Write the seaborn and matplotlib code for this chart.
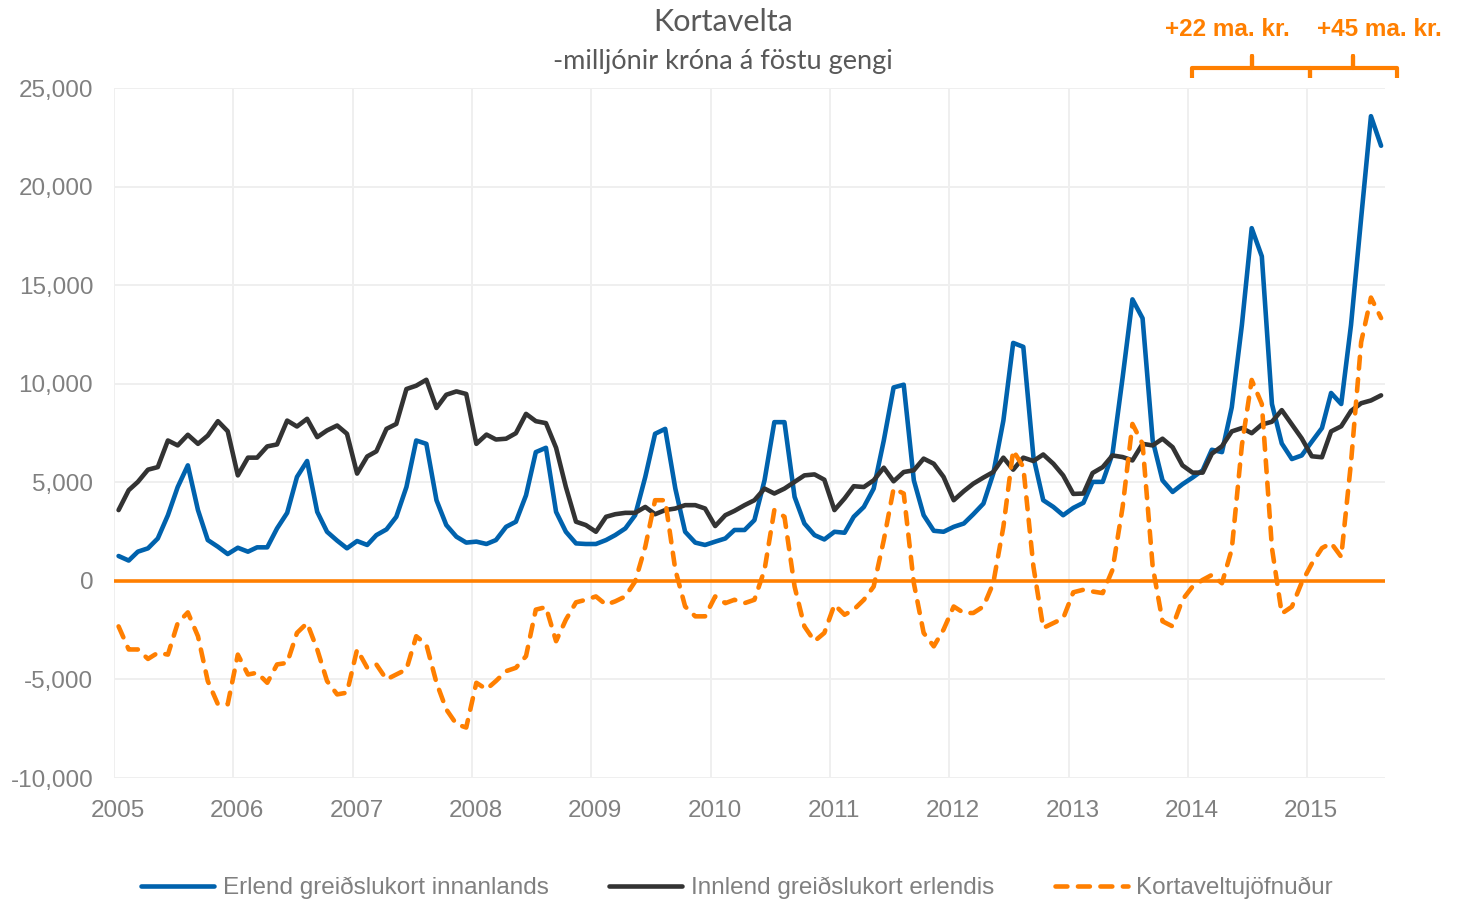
import pandas as pd
import numpy as np
import matplotlib
matplotlib.use("Agg")
import matplotlib.pyplot as plt
import matplotlib.dates as mdates
import matplotlib.ticker as mticker
from matplotlib.transforms import ScaledTranslation
from matplotlib.lines import Line2D
import seaborn as sns

# monthly data, thousands of millions ISK
months = pd.date_range("2005-01-01", periods=128, freq="MS") + pd.Timedelta(days=14)

erlend = [  # foreign cards used in Iceland
    1.26, 1.03, 1.48, 1.65, 2.15, 3.33, 4.76, 5.86, 3.59, 2.07, 1.73, 1.36,
    1.68, 1.48, 1.70, 1.70, 2.66, 3.45, 5.27, 6.08, 3.50, 2.49, 2.04, 1.65,
    2.02, 1.82, 2.32, 2.61, 3.25, 4.76, 7.12, 6.95, 4.09, 2.83, 2.24, 1.94,
    1.99, 1.87, 2.07, 2.74, 3.00, 4.34, 6.53, 6.75, 3.50, 2.49, 1.90, 1.87,
    1.87, 2.07, 2.32, 2.66, 3.33, 5.27, 7.46, 7.71, 4.68, 2.49, 1.94, 1.82,
    1.99, 2.15, 2.58, 2.58, 3.08, 5.10, 8.05, 8.05, 4.26, 2.91, 2.32, 2.10,
    2.49, 2.44, 3.25, 3.75, 4.68, 7.12, 9.81, 9.95, 5.10, 3.33, 2.54, 2.49,
    2.74, 2.91, 3.38, 3.92, 5.44, 8.13, 12.07, 11.87, 6.28, 4.09, 3.75, 3.33,
    3.70, 3.96, 5.02, 5.02, 6.45, 10.32, 14.28, 13.32, 7.12, 5.10, 4.51, 4.90,
    5.24, 5.61, 6.65, 6.53, 8.80, 12.98, 17.89, 16.46, 8.97, 6.97, 6.18, 6.36,
    7.06, 7.75, 9.53, 8.97, 12.98, 18.40, 23.57, 22.07,
]

innlend = [  # Icelandic cards used abroad
    3.59, 4.60, 5.02, 5.64, 5.77, 7.12, 6.87, 7.41, 6.95, 7.37, 8.10, 7.59,
    5.35, 6.25, 6.25, 6.82, 6.92, 8.13, 7.83, 8.22, 7.29, 7.63, 7.88, 7.46,
    5.44, 6.31, 6.57, 7.71, 7.96, 9.73, 9.90, 10.20, 8.77, 9.44, 9.61, 9.48,
    6.95, 7.42, 7.17, 7.21, 7.49, 8.47, 8.10, 8.00, 6.75, 4.76, 3.00, 2.83,
    2.49, 3.25, 3.38, 3.45, 3.45, 3.75, 3.38, 3.59, 3.67, 3.84, 3.84, 3.67,
    2.78, 3.33, 3.55, 3.84, 4.09, 4.68, 4.43, 4.68, 5.02, 5.35, 5.40, 5.13,
    3.59, 4.18, 4.80, 4.76, 5.10, 5.74, 5.05, 5.52, 5.61, 6.20, 5.94, 5.27,
    4.09, 4.55, 4.93, 5.24, 5.52, 6.25, 5.64, 6.25, 6.08, 6.41, 5.94, 5.35,
    4.41, 4.43, 5.47, 5.77, 6.36, 6.28, 6.11, 6.95, 6.87, 7.21, 6.78, 5.86,
    5.49, 5.49, 6.45, 6.83, 7.58, 7.75, 7.49, 7.93, 8.07, 8.66, 7.93, 7.23,
    6.32, 6.27, 7.58, 7.84, 8.62, 9.01, 9.15, 9.41,
]

jofnudur = [  # card turnover balance
    -2.31, -3.48, -3.48, -3.96, -3.65, -3.74, -2.14, -1.60, -2.81, -5.08, -6.26, -6.26,
    -3.74, -4.75, -4.66, -5.17, -4.24, -4.16, -2.64, -2.14, -3.48, -5.08, -5.76, -5.67,
    -3.48, -4.41, -4.24, -5.00, -4.75, -4.49, -2.81, -3.23, -5.17, -6.52, -7.27, -7.44,
    -5.17, -5.50, -5.08, -4.58, -4.41, -3.82, -1.46, -1.33, -3.06, -1.97, -1.09, -0.96,
    -0.79, -1.21, -1.04, -0.79, -0.03, 1.73, 4.09, 4.09, 0.56, -1.30, -1.80, -1.80,
    -0.79, -1.13, -0.96, -1.13, -0.96, 0.56, 3.59, 3.25, -0.29, -2.31, -3.06, -2.64,
    -1.21, -1.72, -1.46, -0.96, -0.29, 2.07, 4.68, 4.43, -0.12, -2.64, -3.32, -2.47,
    -1.30, -1.63, -1.63, -1.30, -0.12, 2.74, 6.62, 5.77, 0.72, -2.39, -2.14, -1.90,
    -0.58, -0.45, -0.54, -0.62, 0.56, 3.75, 7.96, 6.95, 0.72, -2.05, -2.31, -0.96,
    -0.29, 0.05, 0.30, -0.12, 1.60, 6.88, 10.19, 8.97, 1.66, -1.66, -1.31, -0.09,
    0.87, 1.66, 1.92, 1.22, 6.01, 12.11, 14.37, 13.33,
]

series_names = ["Erlend greiðslukort innanlands",
                "Innlend greiðslukort erlendis",
                "Kortaveltujöfnuður"]
annotations = ["+22 ma. kr.", "+45 ma. kr."]
years = list(range(2005, 2016))

BLUE = "#0062ad"
DARK = "#333333"
ORANGE = "#ff7f00"
GRAY = "#808080"

df = pd.DataFrame({
    "date": months,
    series_names[0]: np.array(erlend) * 1000,
    series_names[1]: np.array(innlend) * 1000,
    series_names[2]: np.array(jofnudur) * 1000,
})

sns.set_theme(style="white")
plt.rcParams["font.family"] = ["Liberation Sans", "DejaVu Sans"]
plt.rcParams["lines.dash_capstyle"] = "round"

fig = plt.figure(figsize=(14.6, 9), dpi=100)
ax = fig.add_axes([114 / 1460, 1 - 778 / 900, (1385 - 114) / 1460, (778 - 88) / 900])

sns.lineplot(data=df, x="date", y=series_names[0], ax=ax, color=BLUE, lw=3.3, label=series_names[0])
sns.lineplot(data=df, x="date", y=series_names[1], ax=ax, color=DARK, lw=3.3, label=series_names[1])
sns.lineplot(data=df, x="date", y=series_names[2], ax=ax, color=ORANGE, lw=3.3,
             linestyle=(0, (2.6, 2.3)), label=series_names[2])
ax.axhline(0, color=ORANGE, lw=2.6, zorder=1.5)

ax.set_ylim(-10000, 25000)
ax.set_xlim(pd.Timestamp("2005-01-01"), pd.Timestamp("2015-08-27"))
ax.yaxis.set_major_locator(mticker.MultipleLocator(5000))
ax.yaxis.set_major_formatter(mticker.FuncFormatter(lambda v, p: f"{int(v):,}"))
ax.set_xticks([pd.Timestamp(f"{y}-01-01") for y in years])
ax.xaxis.set_major_formatter(mdates.DateFormatter("%Y"))
ax.grid(True, color="#efefef", lw=1.4)
ax.set_axisbelow(True)
for s in ax.spines.values():
    s.set_visible(False)
ax.tick_params(axis="both", length=0, labelsize=17.5, colors=GRAY)
ax.tick_params(axis="y", pad=15)
ax.tick_params(axis="x", pad=16)
for lab in ax.get_xticklabels():
    lab.set_transform(lab.get_transform() + ScaledTranslation(4 / 100, 0, fig.dpi_scale_trans))
ax.set_xlabel("")
ax.set_ylabel("")
ax.get_legend().remove()

# titles
fig.text(723 / 1460, 1 - 22 / 900, "Kortavelta", ha="center", va="center",
         fontsize=22, color="#595959", family=["Lato", "DejaVu Sans"])
fig.text(723 / 1460, 1 - 61 / 900, "-milljónir króna á föstu gengi", ha="center", va="center",
         fontsize=19.5, color="#595959", family=["Lato", "DejaVu Sans"])

# brackets at the top right
def bracket(x0, xm, x1):
    pts_x = [x0, x0, xm, xm, xm, x1, x1]
    pts_y = [78, 68, 68, 56, 68, 68, 78]
    fig.add_artist(Line2D([p / 1460 for p in pts_x], [1 - p / 900 for p in pts_y],
                          transform=fig.transFigure, color=ORANGE, lw=3,
                          solid_joinstyle="round", solid_capstyle="butt"))

bracket(1192, 1252, 1310)
bracket(1310, 1353, 1397)
fig.text(1227 / 1460, 1 - 29 / 900, annotations[0], ha="center", va="center",
         fontsize=17.5, fontweight="bold", color=ORANGE)
fig.text(1379 / 1460, 1 - 29 / 900, annotations[1], ha="center", va="center",
         fontsize=17.5, fontweight="bold", color=ORANGE)

handles = ax.get_lines()[:3]
fig.legend(handles, series_names, loc="center", bbox_to_anchor=(737 / 1460, 1 - 888 / 900),
           ncol=3, frameon=False, fontsize=17.5, labelcolor=GRAY, handlelength=3.0,
           handletextpad=0.35, columnspacing=2.5)

fig.savefig("out.png", dpi=100)
